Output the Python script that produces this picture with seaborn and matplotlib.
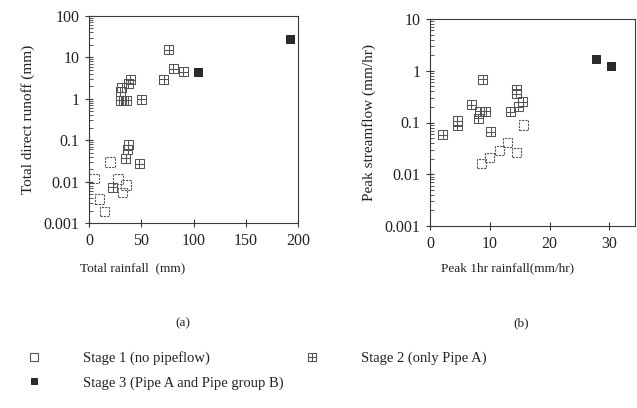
import numpy as np
import pandas as pd
import seaborn as sns
import matplotlib.pyplot as plt
from matplotlib.path import Path
from matplotlib.lines import Line2D
from matplotlib.ticker import LogLocator, FixedLocator, NullFormatter, FuncFormatter

sns.set_theme(style="white")
plt.rcParams["font.family"] = ["Liberation Serif", "DejaVu Serif"]

# ---- (a) total rainfall vs total direct runoff ----
a_s1_x = [4.8, 9.9, 14.6, 20.1, 27.8, 31.9, 35.4]
a_s1_y = [0.012, 0.0038, 0.0019, 0.030, 0.0116, 0.0054, 0.0083]
a_s2_x = [22.7, 35.4, 37.0, 37.6, 48.1, 30.3, 33.0, 35.6, 29.7, 31.3, 37.6, 39.5,
          50.0, 71.5, 76.3, 80.7, 90.0]
a_s2_y = [0.0074, 0.037, 0.058, 0.077, 0.027, 0.93, 0.93, 0.93, 1.5, 1.9, 2.4, 2.9,
          0.97, 2.96, 15.1, 5.3, 4.5]
a_s3_x = [104.0, 192.3]
a_s3_y = [4.5, 28.3]

# ---- (b) peak 1 hr rainfall vs peak streamflow ----
b_s1_x = [8.6, 10.0, 11.6, 13.0, 14.5, 15.6]
b_s1_y = [0.0163, 0.021, 0.029, 0.041, 0.0265, 0.09]
b_s2_x = [2.1, 4.6, 4.6, 6.9, 8.1, 8.3, 9.3, 8.8, 10.2, 13.4, 14.4, 14.4, 14.8, 15.5]
b_s2_y = [0.058, 0.107, 0.086, 0.22, 0.12, 0.165, 0.165, 0.69, 0.067, 0.16, 0.43,
          0.36, 0.20, 0.25]
b_s3_x = [27.7, 30.3]
b_s3_y = [1.66, 1.24]
b_odd_x = [8.3]
b_odd_y = [0.0031]

stage_labels = ["Stage 1 (no pipeflow)", "Stage 2 (only Pipe A)",
                "Stage 3 (Pipe A and Pipe group B)"]

# square with an inner cross: the Stage 2 symbol
grid_sq = Path(
    [(-1, -1), (1, -1), (1, 1), (-1, 1), (-1, -1),
     (0, -1), (0, 1), (-1, 0), (1, 0)],
    [Path.MOVETO, Path.LINETO, Path.LINETO, Path.LINETO, Path.CLOSEPOLY,
     Path.MOVETO, Path.LINETO, Path.MOVETO, Path.LINETO])

ink = "#3a3a3a"
s1_kw = dict(marker="s", s=46, facecolor="none", edgecolor="#555555", linewidth=0.8,
             linestyle=(0, (2, 1)))
s2_kw = dict(marker=grid_sq, s=42, facecolor="none", edgecolor="#555555", linewidth=0.75)
s3_kw = dict(marker="s", s=28, facecolor="#2b2b2b", edgecolor="#111111", linewidth=0.6)

fig = plt.figure(figsize=(6.37, 4.08), dpi=100)
ax_a = fig.add_axes([89 / 637, 1 - 223 / 408, 209 / 637, 207 / 408])
ax_b = fig.add_axes([430 / 637, 1 - 226 / 408, 205 / 637, 207 / 408])


def draw(ax, series):
    (x1, y1), (x2, y2), (x3, y3) = series
    sns.scatterplot(x=x1, y=y1, ax=ax, **s1_kw)
    sns.scatterplot(x=x2, y=y2, ax=ax, **s2_kw)
    sns.scatterplot(x=x3, y=y3, ax=ax, **s3_kw)


draw(ax_a, [(a_s1_x, a_s1_y), (a_s2_x, a_s2_y), (a_s3_x, a_s3_y)])
draw(ax_b, [(b_s1_x, b_s1_y), (b_s2_x, b_s2_y), (b_s3_x, b_s3_y)])
sns.scatterplot(x=b_odd_x, y=b_odd_y, ax=ax_b, marker=(2, 0, -20), s=40,
                color="#222222", linewidth=1.0)


def fmt_log(v, pos):
    if v >= 1:
        return f"{v:g}"
    return f"{v:.{int(round(-np.log10(v)))}f}"


for ax, ylim, xlim, xt in [
    (ax_a, (0.001, 100), (0, 200), [0, 50, 100, 150, 200]),
    (ax_b, (0.001, 10), (0, 34.3), [0, 10, 20, 30]),
]:
    ax.set_yscale("log")
    ax.set_ylim(*ylim)
    ax.set_xlim(*xlim)
    ax.xaxis.set_major_locator(FixedLocator(xt))
    ax.yaxis.set_major_locator(LogLocator(base=10, numticks=10))
    ax.yaxis.set_minor_locator(LogLocator(base=10, subs=np.arange(2, 10), numticks=10))
    ax.yaxis.set_major_formatter(FuncFormatter(fmt_log))
    ax.yaxis.set_minor_formatter(NullFormatter())
    ax.tick_params(axis="both", which="major", direction="inout", length=6, width=0.8,
                   color=ink, labelsize=11.5, labelcolor="#222222", pad=4,
                   left=True, bottom=True)
    ax.tick_params(axis="y", which="minor", direction="in", length=3, width=0.6,
                   color=ink, left=True)
    for side in ["left", "bottom", "top", "right"]:
        ax.spines[side].set_color(ink)
        ax.spines[side].set_linewidth(0.8)
    ax.set_xlabel("")
    ax.set_ylabel("")

ax_a.set_ylabel("Total direct runoff (mm)", fontsize=11, color="#222222", labelpad=6)
ax_b.set_ylabel("Peak streamflow (mm/hr)", fontsize=11, color="#222222", labelpad=6)

fig.text(133 / 637, 1 - 268 / 408, "Total rainfall  (mm)", ha="center", va="center",
         fontsize=9.5, color="#222222")
fig.text(508 / 637, 1 - 268 / 408, "Peak 1hr rainfall(mm/hr)", ha="center", va="center",
         fontsize=9.5, color="#222222")
fig.text(183 / 637, 1 - 323 / 408, "(a)", ha="center", va="center", fontsize=9.5,
         color="#222222")
fig.text(521 / 637, 1 - 323 / 408, "(b)", ha="center", va="center", fontsize=9.5,
         color="#222222")

handles = [
    Line2D([], [], linestyle="none", marker="s", markersize=5.5, markerfacecolor="none",
           markeredgecolor="#555555", markeredgewidth=0.8),
    Line2D([], [], linestyle="none", marker="s", markersize=5, markerfacecolor="#2b2b2b",
           markeredgecolor="#111111", markeredgewidth=0.6),
    Line2D([], [], linestyle="none", marker=grid_sq, markersize=5.5, markerfacecolor="none",
           markeredgecolor="#555555", markeredgewidth=0.8),
]
labels = [stage_labels[0], stage_labels[2], stage_labels[1]]
fig.legend(handles, labels, ncol=2, loc="upper left",
           bbox_to_anchor=(10 / 637, 1 - 338 / 408), frameon=False, fontsize=10.5,
           handletextpad=2.6, columnspacing=1.2, labelspacing=0.75, handlelength=1.5,
           labelcolor="#222222")

fig.savefig("out.png", dpi=100, facecolor="white")
